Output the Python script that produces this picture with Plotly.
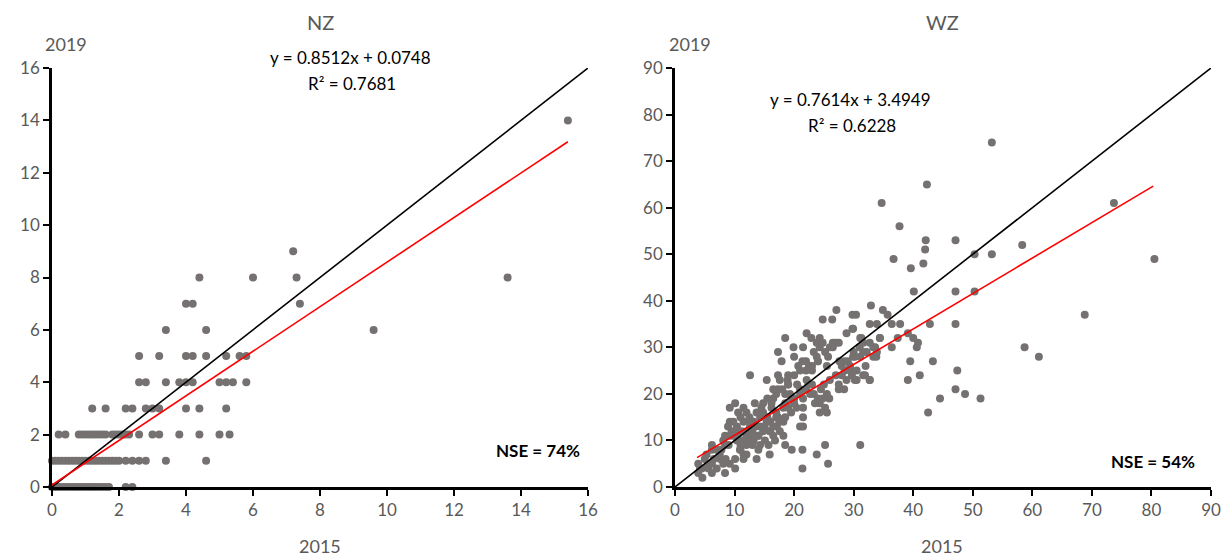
import plotly.graph_objects as go

# ---------------- NZ data ----------------
nz_x = [0, 0.1, 0.2, 0.3, 0.4, 0.5, 0.6, 0.7, 0.8, 0.9, 1.0, 1.1, 1.2, 1.3, 1.4, 1.5, 1.6, 1.7, 2.2, 2.4,
        0, 0.1, 0.2, 0.3, 0.4, 0.5, 0.6, 0.7, 0.8, 0.9, 1.0, 1.1, 1.2, 1.3, 1.4, 1.5, 1.6, 1.7, 1.8, 1.9, 2.0,
        2.2, 2.4, 2.6, 2.8, 3.4, 4.6,
        0.2, 0.4, 0.8, 0.9, 1.0, 1.1, 1.2, 1.3, 1.4, 1.5, 1.6, 1.8, 1.9, 2.0, 2.1, 2.2, 2.3, 2.6, 3.0, 3.2,
        3.8, 4.4, 5.0, 5.3,
        1.2, 1.6, 2.2, 2.4, 2.8, 3.0, 3.2, 4.0, 4.4, 5.2,
        2.6, 2.8, 3.4, 3.8, 4.0, 4.2, 5.0, 5.2, 5.4, 5.8,
        2.6, 3.2, 4.0, 4.2, 4.6, 5.2, 5.6, 5.8,
        3.4, 4.6, 9.6,
        4.0, 4.2, 7.4,
        4.4, 6.0, 7.3, 13.6,
        7.2,
        15.4]
nz_y = [0] * 20 + [1] * 27 + [2] * 24 + [3] * 10 + [4] * 10 + [5] * 8 + [6] * 3 + [7] * 3 + [8] * 4 + [9] + [14]

nz_slope, nz_intercept, nz_r2, nz_nse = 0.8512, 0.0748, 0.7681, 74
nz_fit_x = [0, 15.4]

# ---------------- WZ data ----------------
wz_x = [53.2, 42.3, 34.7, 73.7, 37.7, 42.1, 47.1, 58.3, 42.0, 50.3, 53.2, 80.5, 36.7, 41.7, 39.6,
        40.1, 47.1, 50.3, 68.8, 32.9, 34.9, 35.7, 29.8, 30.4, 32.7, 33.9, 36.4, 37.8, 42.8, 47.1,
        29.8, 31.1, 34.4, 37.4, 39.1, 40.0, 40.8, 40.6, 36.4, 31.6, 32.7, 33.6, 31.6, 30.2, 33.8,
        39.5, 43.3, 58.7, 61.1, 29.4, 31.6, 32.7, 30.2, 39.1, 41.1, 47.4, 47.1, 48.7, 44.5, 51.3,
        42.5, 31.1,
        24.8, 26.4, 27.1, 25.2, 23.8, 22.1, 22.9, 24.3, 23.8, 24.8, 24.3, 23.3, 25.7, 28.4, 27.6,
        19.9, 21.5, 20.0, 21.4, 20.7, 18.5, 17.3, 17.9, 12.6, 15.4, 17.3, 17.6, 18.9, 16.5, 17.3,
        18.5, 19.3, 19.6, 20.4, 21.5, 22.1, 22.4, 22.7, 23.3, 21.5, 23.5, 24.3, 24.8, 25.5, 25.9,
        25.2, 24.3, 25.5, 27.5, 28.4, 28.0, 28.8, 29.7, 28.5, 29.4, 30.5, 30.5, 31.9, 32.7, 33.3,
        33.9, 29.9, 31.1, 32.2, 33.3, 34.4, 29.9, 28.8, 31.3,
        25.2, 25.7, 23.8, 21.4, 21.4, 19.6, 21.5, 21.5, 21.0,
        18.5, 18.2, 17.3, 18.2, 17.1, 17.6, 18.2, 16.5, 16.2, 16.2, 14.8, 14.8, 13.4, 13.7, 13.2,
        14.3, 15.4, 14.3, 14.8, 15.9, 15.1, 16.8, 15.7, 18.5, 15.9, 13.7, 14.3, 13.2, 12.0, 12.6,
        11.5, 12.0, 11.5, 10.6, 9.8, 9.2, 10.4, 11.2, 9.8, 8.4, 10.9, 12.0, 10.9, 11.5, 11.5,
        10.1, 8.4, 8.1, 7.8, 9.2, 10.1, 9.2, 10.1, 8.4, 8.1, 7.6, 7.0, 6.2, 6.2, 5.3,
        6.2, 4.5, 3.9, 4.6, 3.9, 5.6, 6.2, 9.2, 8.9, 10.4, 12.6,
        13.0, 14.0, 15.0, 16.0, 17.0, 19.0, 20.0, 21.0, 22.0, 23.0, 26.0, 27.0, 11.0, 12.5, 14.5,
        16.5, 19.0, 20.5, 22.5, 24.0, 26.5, 9.5, 7.0, 5.0, 4.2,
        11.0, 12.0, 13.0, 13.5, 14.0, 15.0, 15.5, 16.0, 16.5, 17.0, 17.5, 18.5, 19.0, 19.5, 20.0,
        21.0, 22.0, 23.0, 24.0, 24.5, 25.0, 26.0, 27.0, 27.5, 28.0, 29.0, 30.0, 31.0, 32.0, 26.5,
        27.5, 25.5, 24.0, 23.0, 22.0, 9.0, 10.0, 11.0, 12.0, 7.5, 8.5, 6.5, 5.5, 10.5, 11.5,
        13.0, 14.0, 12.5, 14.5, 15.5, 17.0, 18.0, 19.0, 20.0, 21.0]
wz_y = [74, 65, 61, 61, 56, 53, 53, 52, 51, 50, 50, 49, 49, 48, 47,
        42, 42, 42, 37, 39, 38, 37, 37, 37, 35, 35, 35, 35, 35, 35,
        34, 32, 32, 32, 33, 32, 31, 30, 30, 31, 31, 30, 29, 28, 28,
        27, 27, 30, 28, 25, 24, 23, 23, 23, 24, 25, 21, 20, 19, 19,
        16, 9,
        36, 36, 38, 29, 28, 33, 32, 32, 31, 31, 30, 29, 28, 27, 27,
        30, 30, 28, 27, 26, 32, 29, 27, 24, 23, 24, 23, 23, 21, 21,
        20, 20, 19, 17, 17, 23, 22, 20, 20, 19, 18, 18, 19, 20, 19,
        17, 16, 16, 21, 21, 24, 23, 24, 25, 26, 25, 23, 24, 23, 28,
        29, 28, 28, 29, 30, 32, 34, 33, 32,
        9, 5, 7, 8, 4, 8, 15, 13, 13,
        18, 17, 15, 14, 13, 12, 11, 11, 17, 18, 18, 16, 18, 16, 14,
        15, 14, 13, 12, 12, 10, 10, 9, 9, 7, 6, 9, 10, 11, 13,
        14, 16, 17, 16, 14, 14, 13, 12, 11, 11, 10, 9, 8, 7, 6,
        6, 9, 10, 8, 17, 18, 5, 4, 3, 5, 6, 4, 5, 8, 7,
        9, 4, 5, 2, 3, 4, 3, 11, 13, 10, 10,
        12, 11, 13, 12, 15, 22, 18, 21, 25, 26, 30, 31, 8, 14, 16,
        19, 24, 22, 26, 27, 31, 12, 8, 6, 4,
        15, 12, 11, 13, 11, 13, 15, 14, 13, 16, 14, 15, 17, 16, 19,
        20, 21, 22, 19, 21, 22, 23, 24, 22, 26, 27, 29, 30, 26, 30,
        31, 26, 27, 25, 27, 9, 12, 9, 7, 7, 6, 6, 5, 11, 10,
        9, 8, 15, 17, 19, 20, 21, 22, 24, 25]

wz_slope, wz_intercept, wz_r2, wz_nse = 0.7614, 3.4949, 0.6228, 54
wz_fit_x = [3.7, 80.3]

nz_range = [0, 16]
wz_range = [0, 90]

GRAY_PT = "#767171"
GRAY_TXT = "#595959"
FONT = "Lato"

# page body has an 8px margin: figure occupies viewport x 8..1232, y 8..560
W, H, OFF = 1224, 552, 8

def px2x(px):
    return (px - OFF) / W

def py2y(py):
    return (OFF + H - py) / H

fig = go.Figure()

def add_panel(xs, ys, slope, intercept, fit_x, rng, xa, ya):
    fig.add_trace(go.Scatter(x=xs, y=ys, mode="markers", xaxis=xa, yaxis=ya,
                             marker=dict(color=GRAY_PT, size=8, line=dict(width=0)),
                             cliponaxis=False, showlegend=False, hoverinfo="x+y"))
    fig.add_trace(go.Scatter(x=rng, y=rng, mode="lines", xaxis=xa, yaxis=ya,
                             line=dict(color="black", width=1.6), showlegend=False, hoverinfo="skip"))
    fy = [slope * v + intercept for v in fit_x]
    fig.add_trace(go.Scatter(x=fit_x, y=fy, mode="lines", xaxis=xa, yaxis=ya,
                             line=dict(color="#FF0000", width=1.6), showlegend=False, hoverinfo="skip"))

add_panel(nz_x, nz_y, nz_slope, nz_intercept, nz_fit_x, nz_range, "x", "y")
add_panel(wz_x, wz_y, wz_slope, wz_intercept, wz_fit_x, wz_range, "x2", "y2")

ydom = [py2y(487), py2y(68)]
axis_common = dict(showgrid=False, zeroline=False, showline=True, linecolor="black", linewidth=2.5,
                   ticks="outside", tickcolor="black", tickwidth=2, ticklen=6, automargin=False,
                   tickfont=dict(family=FONT, size=17, color=GRAY_TXT), mirror=False)

fig.update_layout(
    template="none",
    width=W, height=H, paper_bgcolor="white", plot_bgcolor="white",
    margin=dict(l=0, r=0, t=0, b=0, pad=0),
    font=dict(family=FONT, color=GRAY_TXT),
    xaxis=dict(domain=[px2x(52), px2x(588)], range=nz_range, dtick=2, anchor="y", **axis_common),
    yaxis=dict(domain=ydom, range=nz_range, dtick=2, anchor="x", **axis_common),
    xaxis2=dict(domain=[px2x(675), px2x(1211)], range=wz_range, dtick=10, anchor="y2", **axis_common),
    yaxis2=dict(domain=ydom, range=wz_range, dtick=10, anchor="x2", **axis_common),
)

def ann(text, px, py, size=16, color=GRAY_TXT, bold=False):
    if bold:
        text = "<b>" + text + "</b>"
    fig.add_annotation(text=text, x=px2x(px), y=py2y(py), xref="paper", yref="paper",
                       showarrow=False, xanchor="center", yanchor="middle",
                       font=dict(family=FONT, size=size, color=color))

ann("NZ", 320, 22, size=20)
ann("WZ", 942, 22, size=20)
ann("2019", 66, 44, size=18)
ann("2019", 690, 44, size=18)
ann("2015", 320, 546, size=18)
ann("2015", 942, 546, size=18)
ann(f"y = {nz_slope}x + {nz_intercept}", 350, 58, size=17, color="black")
ann(f"R² = {nz_r2}", 352, 84, size=17, color="black")
ann(f"y = {wz_slope}x + {wz_intercept}", 850, 100, size=17, color="black")
ann(f"R² = {wz_r2}", 852, 126, size=17, color="black")
ann(f"NSE = {nz_nse}%", 538, 450, size=17, color="black", bold=True)
ann(f"NSE = {wz_nse}%", 1153, 461, size=17, color="black", bold=True)

fig.write_html("out.html")
